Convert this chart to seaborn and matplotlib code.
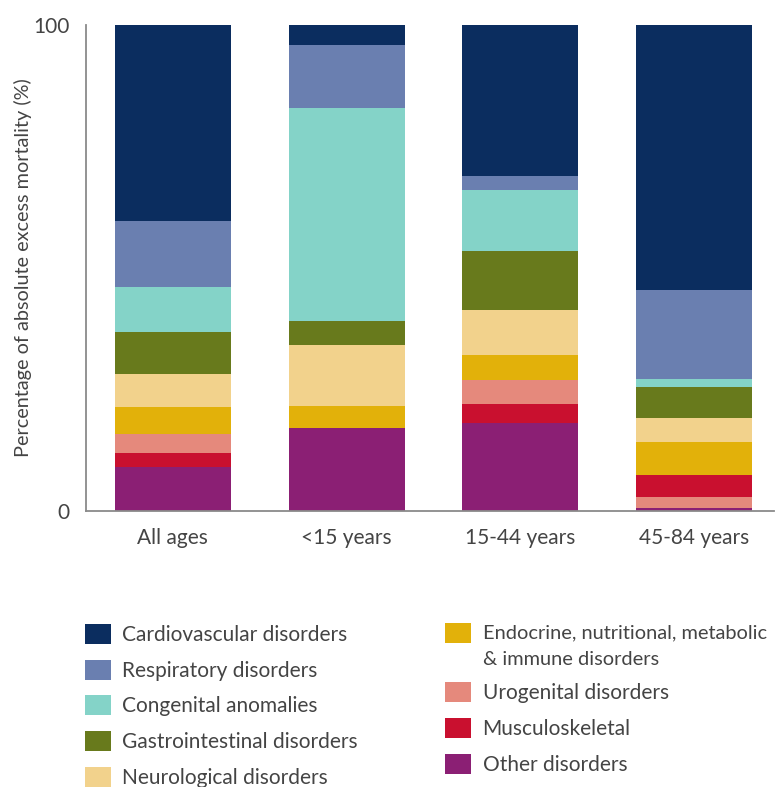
import numpy as np
import pandas as pd
import matplotlib
matplotlib.use('Agg')
import matplotlib.pyplot as plt
import matplotlib.patches as mpatches
from matplotlib.legend_handler import HandlerPatch
import seaborn as sns

# age groups on the x axis
age_groups = ['All ages', '<15 years', '15-44 years', '45-84 years']

# disease groups (legend order)
categories = ['Cardiovascular disorders', 'Respiratory disorders', 'Congenital anomalies',
              'Gastrointestinal disorders', 'Neurological disorders',
              'Endocrine, nutritional, metabolic\n& immune disorders',
              'Urogenital disorders', 'Musculoskeletal', 'Other disorders']

# share of absolute excess mortality (%)
cardiovascular = [40.3, 4.1, 31.1, 54.5]
respiratory = [13.6, 13.0, 2.9, 18.3]
congenital = [9.3, 43.8, 12.6, 1.6]
gastrointestinal = [8.6, 4.9, 12.1, 6.4]
neurological = [6.7, 12.6, 9.1, 4.9]
endocrine = [5.7, 4.5, 5.3, 6.9]
urogenital = [3.8, 0.0, 4.9, 2.2]
musculoskeletal = [3.0, 0.0, 3.8, 4.5]
other = [9.0, 17.1, 18.2, 0.7]

colors = ['#0b2d5f', '#6a7fb0', '#84d3c8', '#687a1c', '#f2d28c',
          '#e2b10a', '#e5897c', '#c9102f', '#8b1f74']

# stacking order from the bottom up (indices into categories)
# in the 45-84 bar urogenital sits below musculoskeletal
stack_default = [8, 7, 6, 5, 4, 3, 2, 1, 0]
stack_45_84 = [8, 6, 7, 5, 4, 3, 2, 1, 0]
stack_orders = [stack_default, stack_default, stack_default, stack_45_84]

values = np.array([cardiovascular, respiratory, congenital, gastrointestinal,
                   neurological, endocrine, urogenital, musculoskeletal, other])

bottoms = np.zeros_like(values)
for g, order in enumerate(stack_orders):
    running = 0.0
    for c in order:
        bottoms[c, g] = running
        running += values[c, g]

sns.set_style('white')
plt.rcParams['font.family'] = ['Lato', 'DejaVu Sans']

text_col = '#444444'
axis_col = '#8a8a8a'

fig = plt.figure(figsize=(7.78, 7.87), dpi=100)
ax = fig.add_axes([86 / 778, 1 - 511 / 787, 688 / 778, 486 / 787])

for i, cat in enumerate(categories):
    df = pd.DataFrame({'group': age_groups, 'value': values[i]})
    sns.barplot(data=df, x='group', y='value', order=age_groups, color=colors[i],
                saturation=1, width=0.667, errorbar=None, bottom=bottoms[i],
                linewidth=0, ax=ax)

ax.set_xlim(-0.5, 3.46)
ax.set_ylim(0, 100)
ax.set_yticks([0, 100])
ax.set_yticklabels(['0', '100'])
ax.set_xlabel('')
ax.set_ylabel('Percentage of absolute excess mortality (%)', fontsize=14.3,
              color=text_col, labelpad=1)
sns.despine(ax=ax)
for s in ['left', 'bottom']:
    ax.spines[s].set_color(axis_col)
    ax.spines[s].set_linewidth(1.3)
ax.tick_params(axis='y', length=9, width=1.3, color=axis_col, labelsize=15,
               labelcolor=text_col, pad=3)
ax.tick_params(axis='x', length=0, labelsize=15, labelcolor=text_col, pad=12)


def upper_square(legend, orig_handle, xdescent, ydescent, width, height, fontsize):
    # line the square up with the first line of a two-line label
    return mpatches.Rectangle((-xdescent, -ydescent + 0.63 * fontsize), width, height)


handles = [mpatches.Patch(facecolor=c, edgecolor='none') for c in colors]
leg_kw = dict(frameon=False, fontsize=15, handlelength=1.25, handleheight=1.1,
              handletextpad=0.55, labelspacing=0.7, borderpad=0, borderaxespad=0,
              loc='upper left', labelcolor=text_col)
leg1 = fig.legend(handles[:5], categories[:5],
                  bbox_to_anchor=(85 / 778, 1 - 624 / 787), **leg_kw)
leg2 = fig.legend(handles[5:], categories[5:],
                  bbox_to_anchor=(445 / 778, 1 - 624 / 787),
                  handler_map={handles[5]: HandlerPatch(patch_func=upper_square)},
                  **leg_kw)
endo_text = leg2.get_texts()[0]
endo_text.set_fontsize(14.4)
endo_text.set_linespacing(1.7)

fig.savefig('out.png', dpi=100)
